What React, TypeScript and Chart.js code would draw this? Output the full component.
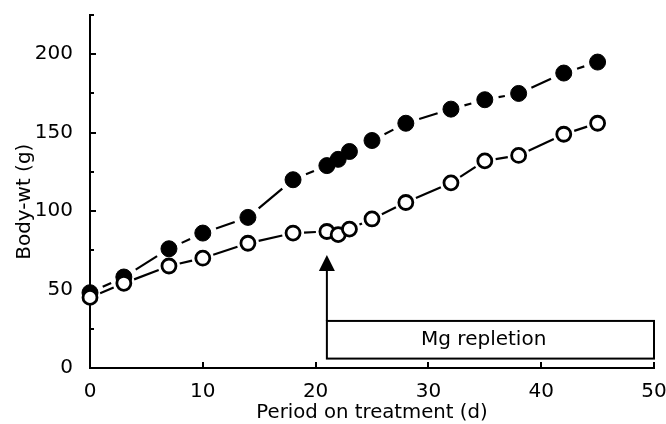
import React, { useEffect, useRef } from 'react';
import { Chart, registerables } from 'chart.js';

Chart.register(...registerables);

// ---- data ----
const days = [0, 3, 7, 10, 14, 18, 21, 22, 23, 25, 28, 32, 35, 38, 42, 45];
const filledWeights = [48, 58, 76, 86, 96, 120, 129, 133, 138, 145, 156, 165, 171, 175, 188, 195];
const openWeights = [45, 54, 65, 70, 79.5, 86, 87, 85, 88.5, 95, 105.5, 118, 132, 135.5, 149, 156];

const xTickValues = [0, 10, 20, 30, 40, 50];
const yTickValues = [0, 50, 100, 150, 200];
const yMinorTickValues = [25, 75, 125, 175, 225];

const xTitle = 'Period on treatment (d)';
const yTitle = 'Body-wt (g)';

// annotation (data units)
const repletionDay = 21;
const repletionEndDay = 50;
const repletionBoxRange = [6, 30];
const arrowTipValue = 72;
const repletionLabel = 'Mg repletion';
const repletionLabelDay = 34.9;
const yTitleCenterValue = 106;

const FONT = '"DejaVu Sans", sans-serif';
const INK = '#000';

function gapDash(gap: number) {
  return (ctx: any) => {
    const dx = ctx.p1.x - ctx.p0.x;
    const dy = ctx.p1.y - ctx.p0.y;
    const L = Math.hypot(dx, dy);
    const d = Math.max(0, L - 2 * gap);
    return [0, gap, d, L + 200];
  };
}

const axisDecor = {
  id: 'axisDecor',
  afterDraw(chart: any) {
    const { ctx, chartArea, scales } = chart;
    const x = scales.x;
    const y = scales.y;
    ctx.save();
    ctx.strokeStyle = INK;
    ctx.lineWidth = 2;
    ctx.beginPath();
    for (const v of yTickValues) {
      const py = Math.round(y.getPixelForValue(v));
      ctx.moveTo(chartArea.left, py);
      ctx.lineTo(chartArea.left + 6, py);
    }
    for (const v of yMinorTickValues) {
      const py = Math.round(y.getPixelForValue(v));
      ctx.moveTo(chartArea.left, py);
      ctx.lineTo(chartArea.left + 4, py);
    }
    for (const v of xTickValues) {
      const px = Math.round(x.getPixelForValue(v));
      ctx.moveTo(px, chartArea.bottom);
      ctx.lineTo(px, chartArea.bottom - 6);
    }
    ctx.stroke();
    // y axis title
    ctx.fillStyle = INK;
    ctx.font = '20px ' + FONT;
    ctx.textAlign = 'center';
    ctx.textBaseline = 'alphabetic';
    ctx.translate(30, y.getPixelForValue(yTitleCenterValue));
    ctx.rotate(-Math.PI / 2);
    ctx.fillText(yTitle, 0, 0);
    ctx.restore();
  },
};

const repletionPlugin = {
  id: 'repletion',
  afterDatasetsDraw(chart: any) {
    const { ctx, scales } = chart;
    const x = scales.x;
    const y = scales.y;
    const x0 = x.getPixelForValue(repletionDay);
    const x1 = x.getPixelForValue(repletionEndDay);
    const yb = y.getPixelForValue(repletionBoxRange[0]);
    const yt = y.getPixelForValue(repletionBoxRange[1]);
    const tip = y.getPixelForValue(arrowTipValue);
    ctx.save();
    ctx.strokeStyle = INK;
    ctx.fillStyle = INK;
    ctx.lineWidth = 2;
    ctx.strokeRect(x0, yt, x1 - x0, yb - yt);
    ctx.beginPath();
    ctx.moveTo(x0, yt);
    ctx.lineTo(x0, tip + 14);
    ctx.stroke();
    ctx.beginPath();
    ctx.moveTo(x0, tip);
    ctx.lineTo(x0 - 8, tip + 16);
    ctx.lineTo(x0 + 8, tip + 16);
    ctx.closePath();
    ctx.fill();
    ctx.font = '20px ' + FONT;
    ctx.textAlign = 'center';
    ctx.textBaseline = 'middle';
    ctx.fillStyle = INK;
    ctx.fillText(repletionLabel, x.getPixelForValue(repletionLabelDay), (yt + yb) / 2);
    ctx.restore();
  },
};

export default function App() {
  const ref = useRef<HTMLCanvasElement | null>(null);

  useEffect(() => {
    document.body.style.margin = '0';
    const canvas = ref.current;
    if (!canvas) return;
    const chart = new Chart(canvas, {
      type: 'line',
      data: {
        datasets: [
          {
            label: 'open',
            data: days.map((d, i) => ({ x: d, y: openWeights[i] })),
            borderColor: INK,
            borderWidth: 2.2,
            backgroundColor: '#fff',
            pointBackgroundColor: '#fff',
            pointBorderColor: INK,
            pointBorderWidth: 2.8,
            pointRadius: 7,
            tension: 0,
            clip: false,
            segment: { borderDash: gapDash(11) },
          },
          {
            label: 'filled',
            data: days.map((d, i) => ({ x: d, y: filledWeights[i] })),
            borderColor: INK,
            borderWidth: 2.2,
            backgroundColor: INK,
            pointBackgroundColor: INK,
            pointBorderColor: INK,
            pointBorderWidth: 1,
            pointRadius: 8,
            tension: 0,
            clip: false,
            segment: { borderDash: gapDash(14) },
          },
        ],
      },
      options: {
        responsive: false,
        animation: false,
        devicePixelRatio: 1,
        layout: { padding: { top: 15, right: 12, left: 0, bottom: 0 } },
        plugins: {
          legend: { display: false },
          tooltip: { enabled: false },
        },
        scales: {
          x: {
            type: 'linear',
            min: 0,
            max: 50,
            afterBuildTicks: (s: any) => {
              s.ticks = xTickValues.map((v) => ({ value: v }));
            },
            afterFit: (s: any) => {
              s.height = 56;
              s.paddingLeft = 0;
              s.paddingRight = 0;
            },
            grid: { display: false, drawTicks: false },
            border: { display: true, color: INK, width: 2 },
            ticks: {
              padding: 12,
              color: INK,
              font: { family: FONT, size: 20 },
              maxRotation: 0,
            },
            title: {
              display: true,
              text: xTitle,
              color: INK,
              font: { family: FONT, size: 19.7 },
              padding: { top: 0, bottom: -1 },
            },
          },
          y: {
            type: 'linear',
            min: 0,
            max: 225,
            afterBuildTicks: (s: any) => {
              s.ticks = yTickValues.map((v) => ({ value: v }));
            },
            afterFit: (s: any) => {
              s.width = 90;
              s.paddingTop = 0;
              s.paddingBottom = 0;
            },
            grid: { display: false, drawTicks: false },
            border: { display: true, color: INK, width: 2 },
            ticks: {
              padding: 17,
              color: INK,
              font: { family: FONT, size: 20 },
            },
          },
        },
      },
      plugins: [axisDecor, repletionPlugin],
    });
    return () => chart.destroy();
  }, []);

  return (
    <div style={{ position: 'absolute', left: 0, top: 0, width: 666, height: 424, background: '#fff' }}>
      <canvas ref={ref} width={666} height={424} />
    </div>
  );
}
